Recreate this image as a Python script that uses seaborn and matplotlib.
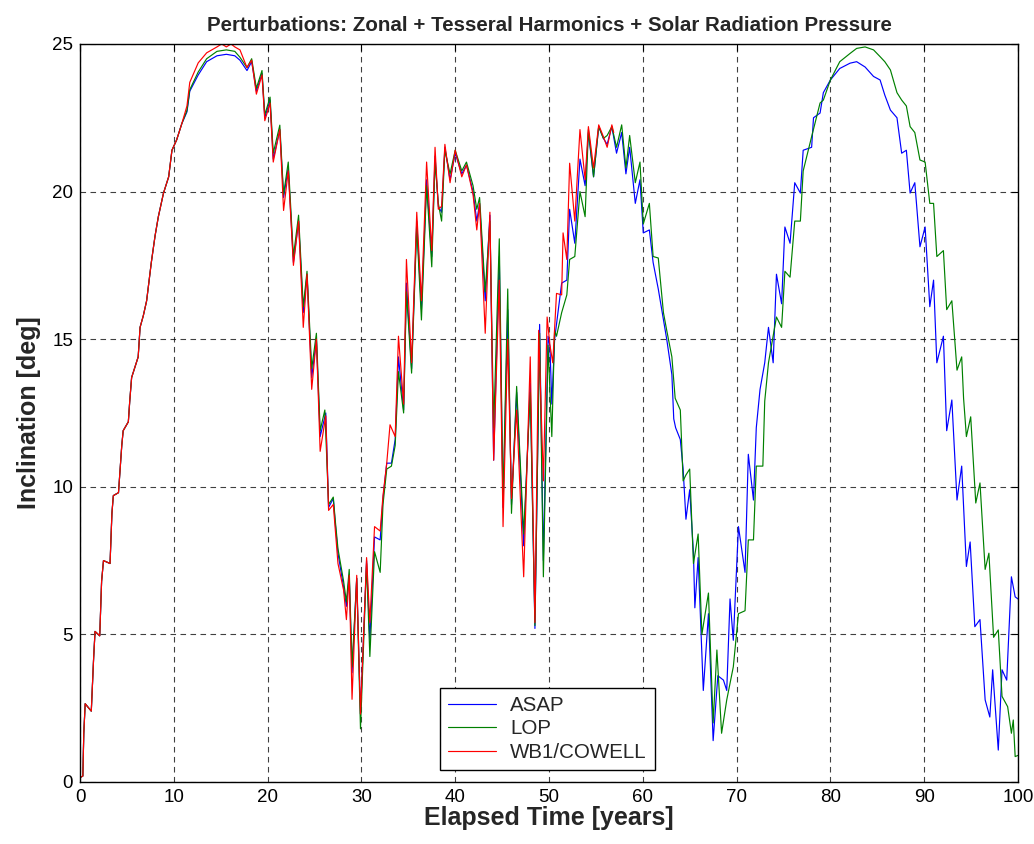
import pandas as pd
import matplotlib
matplotlib.use("Agg")
import matplotlib.pyplot as plt
import seaborn as sns

OUTPUT_FILE = "out.png"

# shared start of the three curves (they overlap up to ~11 years)
early_t = [0, 0.3, 0.4, 0.55, 1.2, 1.45, 1.6, 2.1, 2.3, 2.5, 3.2, 3.4, 3.55, 4.1,
           4.25, 4.45, 4.6, 5.15, 5.3, 5.5, 6.0, 6.2, 6.4, 6.75, 7.1, 7.6, 8.0,
           8.35, 8.9, 9.45, 9.8, 10.3, 10.85]
early_inc = [0.15, 0.2, 1.65, 2.65, 2.4, 4.2, 5.1, 4.95, 6.8, 7.5, 7.4, 9.1, 9.7, 9.8,
             10.5, 11.4, 11.9, 12.2, 12.9, 13.7, 14.2, 14.4, 15.4, 15.8, 16.3, 17.6, 18.5,
             19.15, 19.95, 20.5, 21.4, 21.75, 22.3]

asap_t = [11.4, 11.7, 12.6, 13.5, 14.6, 15.6, 16.5, 17.05, 17.8, 18.3, 18.8, 19.4, 19.7,
          20.26, 20.6, 21.3, 21.7, 22.2, 22.75, 23.3, 23.8, 24.2, 24.7, 25.2, 25.6, 26.2,
          26.5, 27.0, 27.2, 27.5, 28.1, 28.4, 28.7, 29.0, 29.5, 29.9, 30.55, 30.9, 31.4,
          32.0, 32.3, 32.7, 33.2, 33.6, 33.95, 34.5, 34.8, 35.35, 35.9, 36.4, 36.95, 37.5,
          37.85, 38.2, 38.55, 38.9, 39.45, 40.0, 40.7, 41.2, 41.9, 42.3, 42.6, 43.2, 43.7,
          44.1, 44.7, 45.1, 45.6, 46.0, 46.55, 47.3, 48.0, 48.5, 49.0, 49.4, 49.9, 50.1,
          50.3, 50.6, 51.35, 51.9, 52.2, 52.75, 53.3, 53.85, 54.2, 54.75, 55.3, 55.8, 56.2,
          56.7, 57.2, 57.75, 58.2, 58.6, 59.2, 59.7, 60.05, 60.7, 61.1, 61.65, 62.2, 62.55,
          63.1, 63.3, 63.5, 64.0, 64.3, 64.6, 65.0, 65.4, 65.55, 65.9, 66.45, 67.0, 67.5,
          68.0, 68.6, 68.95, 69.3, 69.65, 70.2, 70.9, 71.25, 71.8, 72.1, 72.5, 73.0, 73.4,
          73.9, 74.25, 74.8, 75.15, 75.7, 76.2, 76.8, 77.1, 78.0, 78.2, 78.9, 79.25, 80.0,
          81.0, 82.1, 82.8, 83.7, 84.6, 85.3, 85.8, 86.4, 87.1, 87.6, 88.1, 88.5, 89.0,
          89.55, 90.1, 90.6, 91.0, 91.35, 92.05, 92.4, 92.95, 93.5, 94.0, 94.5, 94.9, 95.4,
          95.95, 96.5, 97.0, 97.3, 97.9, 98.3, 98.8, 99.3, 99.7, 100.0]
asap_inc = [22.7, 23.4, 23.95, 24.4, 24.6, 24.65, 24.6, 24.45, 24.1, 24.4, 23.4, 24.0, 22.5,
            23.1, 21.1, 22.1, 19.8, 20.8, 17.6, 19.0, 15.9, 17.2, 13.7, 15.0, 11.7, 12.5,
            9.3, 9.6, 8.8, 7.75, 6.6, 5.95, 7.0, 3.7, 6.9, 2.3, 7.5, 4.8, 8.3,
            8.2, 9.6, 10.8, 10.8, 11.6, 14.4, 12.6, 16.9, 14.0, 19.0, 16.0, 20.4, 17.8,
            21.2, 19.5, 19.3, 21.5, 20.4, 21.3, 20.6, 20.9, 20.0, 19.0, 19.6, 16.3, 19.2,
            10.9, 17.8, 9.3, 16.0, 9.4, 13.2, 8.0, 13.5, 5.2, 15.5, 7.5, 15.1, 14.75,
            12.8, 15.0, 16.9, 17.0, 19.4, 18.25, 21.1, 20.2, 22.0, 20.5, 22.2, 21.8, 21.6,
            22.2, 21.3, 22.0, 20.6, 21.5, 19.6, 20.4, 18.6, 18.7, 17.6, 16.7, 15.65, 15.0,
            13.8, 12.3, 12.0, 11.6, 10.6, 8.9, 9.9, 7.75, 5.9, 7.6, 3.1, 5.7, 1.4,
            3.6, 3.45, 3.1, 6.2, 4.8, 8.65, 7.1, 11.1, 9.55, 12.0, 13.3, 14.2, 15.4,
            14.2, 17.2, 16.2, 18.8, 18.25, 20.3, 19.95, 21.4, 21.5, 22.5, 22.66, 23.35, 23.78,
            24.17, 24.35, 24.4, 24.22, 23.9, 23.78, 23.27, 22.76, 22.5, 21.3, 21.4, 19.95, 20.3,
            18.13, 18.8, 16.1, 17.0, 14.2, 15.1, 11.9, 12.94, 9.55, 10.7, 7.3, 8.13, 5.26,
            5.5, 2.78, 2.2, 3.8, 1.08, 3.8, 3.45, 6.95, 6.27, 6.2]

lop_t = [11.4, 11.7, 12.6, 13.5, 14.6, 15.6, 16.5, 17.05, 17.8, 18.3, 18.8, 19.4, 19.7,
         20.26, 20.6, 21.3, 21.7, 22.2, 22.75, 23.3, 23.8, 24.2, 24.7, 25.2, 25.6, 26.1,
         26.5, 27.0, 27.2, 27.5, 28.1, 28.4, 28.7, 29.0, 29.5, 29.9, 30.55, 30.9, 31.4,
         32.0, 32.3, 32.7, 33.2, 33.6, 33.95, 34.5, 34.8, 35.35, 35.9, 36.4, 36.95, 37.5,
         37.85, 38.2, 38.55, 38.9, 39.45, 40.0, 40.7, 41.2, 41.9, 42.3, 42.6, 43.2, 43.7,
         44.1, 44.7, 45.1, 45.6, 46.0, 46.55, 47.3, 48.0, 48.5, 49.0, 49.4, 49.9, 50.3,
         50.6, 50.8, 51.35, 51.9, 52.2, 52.75, 53.3, 53.85, 54.2, 54.75, 55.3, 55.8, 56.2,
         56.7, 57.2, 57.75, 58.2, 58.6, 59.2, 59.7, 60.05, 60.7, 61.1, 61.65, 62.2, 62.55,
         63.1, 63.45, 64.0, 64.3, 64.6, 65.0, 65.4, 65.9, 66.3, 67.0, 67.5, 67.9, 68.4,
         68.95, 69.65, 70.2, 70.9, 71.25, 71.8, 72.1, 72.8, 73.0, 73.4, 73.9, 74.25, 74.8,
         75.15, 75.7, 76.2, 76.8, 77.1, 78.0, 78.9, 79.25, 80.0, 81.0, 82.1, 82.8, 83.7,
         84.6, 85.3, 85.8, 86.4, 87.1, 87.6, 88.1, 88.5, 89.0, 89.55, 90.1, 90.6, 91.0,
         91.35, 92.05, 92.4, 92.95, 93.5, 94.0, 94.2, 94.5, 94.96, 95.5, 95.95, 96.5, 96.9,
         97.4, 97.9, 98.3, 98.9, 99.3, 99.5, 99.7, 100.0]
lop_inc = [22.75, 23.45, 24.05, 24.5, 24.75, 24.8, 24.75, 24.55, 24.2, 24.5, 23.5, 24.1, 22.6,
           23.2, 21.3, 22.25, 19.9, 21.0, 17.8, 19.2, 16.1, 17.3, 14.0, 15.2, 11.9, 12.6,
           9.4, 9.65, 8.9, 7.9, 6.8, 6.1, 7.2, 3.9, 6.9, 1.8, 7.4, 4.25, 7.8,
           7.1, 9.4, 10.6, 10.7, 11.4, 13.9, 12.5, 16.6, 13.85, 18.8, 15.65, 20.2, 17.45,
           21.0, 19.6, 19.0, 21.4, 20.6, 21.4, 20.7, 21.0, 20.2, 19.4, 19.8, 16.6, 19.0,
           12.0, 18.4, 9.5, 16.7, 9.1, 13.4, 8.4, 13.2, 5.3, 15.2, 6.95, 14.8, 11.7,
           15.3, 15.1, 15.9, 16.5, 17.7, 17.8, 20.0, 19.15, 22.1, 20.5, 22.2, 21.8, 21.9,
           22.2, 21.5, 22.26, 20.8, 21.9, 20.3, 21.0, 18.9, 19.6, 17.8, 17.75, 15.9, 15.3,
           14.4, 13.0, 12.6, 10.2, 10.4, 10.6, 7.4, 8.4, 5.0, 6.4, 2.0, 4.47, 1.65,
           2.78, 3.9, 5.7, 5.8, 8.2, 8.2, 10.7, 10.7, 12.9, 14.2, 15.1, 15.75, 15.4,
           17.3, 17.1, 19.0, 19.0, 20.7, 21.86, 23.0, 23.1, 23.78, 24.4, 24.68, 24.85, 24.9,
           24.8, 24.57, 24.4, 24.12, 23.35, 23.1, 22.9, 22.2, 22.0, 21.07, 21.0, 19.6, 19.6,
           17.8, 18.0, 16.0, 16.3, 13.95, 14.4, 13.0, 11.7, 12.37, 9.45, 10.13, 7.2, 7.75,
           4.9, 5.15, 2.9, 2.55, 1.65, 2.1, 0.86, 0.9]

wb1_t = [11.4, 11.7, 12.6, 13.5, 14.6, 15.1, 15.6, 16.1, 16.5, 17.05, 17.8, 18.3, 18.8,
         19.4, 19.7, 20.26, 20.6, 21.3, 21.7, 22.2, 22.75, 23.3, 23.8, 24.2, 24.7, 25.2,
         25.6, 26.2, 26.5, 27.0, 27.2, 27.5, 28.1, 28.4, 28.7, 29.0, 29.5, 29.9, 30.55,
         30.9, 31.4, 32.0, 32.3, 32.7, 33.05, 33.6, 33.95, 34.5, 34.8, 35.35, 35.9, 36.4,
         36.95, 37.5, 37.85, 38.2, 38.55, 38.9, 39.45, 40.0, 40.7, 41.2, 41.9, 42.3, 42.6,
         43.2, 43.7, 44.1, 44.7, 45.1, 45.6, 46.0, 46.55, 47.3, 48.0, 48.5, 48.9, 49.4,
         49.8, 50.1, 50.4, 50.8, 51.35, 51.5, 51.9, 52.2, 52.75, 53.3, 53.85, 54.2, 54.75,
         55.3, 55.8, 56.2, 56.7, 56.9]
wb1_inc = [22.9, 23.7, 24.36, 24.7, 24.9, 25.0, 24.9, 25.0, 24.9, 24.8, 24.2, 24.45, 23.3,
           23.95, 22.4, 23.0, 21.0, 22.1, 19.36, 20.7, 17.5, 19.0, 15.4, 17.2, 13.3, 15.0,
           11.2, 12.4, 9.2, 9.4, 8.6, 7.4, 6.5, 5.5, 7.0, 2.8, 7.0, 2.3, 7.6,
           5.4, 8.65, 8.5, 9.7, 10.8, 12.1, 11.7, 15.1, 12.8, 17.7, 14.2, 19.3, 16.3,
           21.0, 18.0, 21.5, 19.4, 19.5, 21.6, 20.3, 21.4, 20.5, 20.9, 19.9, 18.7, 19.6,
           15.2, 19.3, 10.9, 17.0, 8.65, 15.0, 9.6, 12.6, 6.95, 14.4, 5.4, 15.3, 10.2,
           15.75, 14.8, 14.2, 16.55, 16.5, 18.6, 17.7, 20.96, 19.0, 22.1, 20.4, 22.2, 20.8,
           22.26, 21.86, 21.5, 22.26, 22.0]

series_names = ["ASAP", "LOP", "WB1/COWELL"]
series_colors = ["#0000ff", "#008000", "#ff0000"]


def main():
    series = {
        "ASAP": (asap_t, asap_inc),
        "LOP": (lop_t, lop_inc),
        "WB1/COWELL": (wb1_t, wb1_inc),
    }
    frames = []
    for name, (t, inc) in series.items():
        assert len(t) == len(inc), (name, len(t), len(inc))
        frames.append(pd.DataFrame({"time": early_t + t,
                                    "inc": early_inc + inc,
                                    "model": name}))
    df = pd.concat(frames, ignore_index=True)

    sns.set_theme(style="white")
    plt.rcParams["font.family"] = ["Liberation Sans", "DejaVu Sans"]

    fig = plt.figure(figsize=(10.34, 8.44), dpi=100)
    ax = fig.add_axes([0.0774, 0.0735, 0.9071, 0.8744])

    sns.lineplot(data=df, x="time", y="inc", hue="model", hue_order=series_names,
                 palette=dict(zip(series_names, series_colors)),
                 estimator=None, sort=False, linewidth=0.85, ax=ax)

    ax.set_xlim(0, 100)
    ax.set_ylim(0, 25)
    ax.set_xticks(range(0, 101, 10))
    ax.set_yticks(range(0, 26, 5))
    ax.grid(True, color="black", linestyle=(0, (5, 4)), linewidth=0.8, alpha=0.75)
    ax.tick_params(direction="in", length=5, width=0.8, top=True, right=True,
                   labelsize=13.5, colors="black", pad=5)
    for spine in ax.spines.values():
        spine.set_color("black")
        spine.set_linewidth(1.0)

    ax.set_xlabel("Elapsed Time [years]", fontsize=18, fontweight="bold", labelpad=0)
    ax.set_ylabel("Inclination [deg]", fontsize=18, fontweight="bold", labelpad=8)
    ax.set_title("Perturbations: Zonal + Tesseral Harmonics + Solar Radiation Pressure",
                 fontsize=14.8, fontweight="bold", pad=9)

    handles, labels = ax.get_legend_handles_labels()
    ax.legend(handles[:3], labels[:3], loc="lower left", bbox_to_anchor=(0.384, 0.016),
              fontsize=14.8, frameon=True, fancybox=False, edgecolor="black",
              framealpha=1.0, handlelength=2.3, handletextpad=0.7, borderpad=0.4,
              labelspacing=0.22, borderaxespad=0.0)
    ax.get_legend().get_frame().set_linewidth(1.0)

    fig.savefig(OUTPUT_FILE, dpi=100)
    plt.close(fig)


if __name__ == "__main__":
    main()
